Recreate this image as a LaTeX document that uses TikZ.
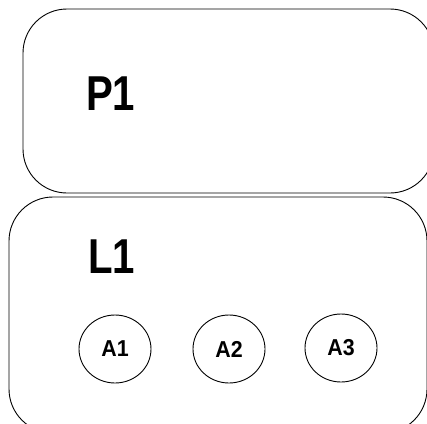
\documentclass[tikz,border=0pt]{standalone}
\usepackage{fontspec}
\setmainfont{Liberation Sans}
\usetikzlibrary{shapes.geometric}

\tikzset{
  panel/.style={draw,line width=0.9pt,rounded corners=44pt},
  bigname/.style={anchor=base west,inner sep=0pt,xscale=0.82,transform shape,
    font=\fontsize{49}{49}\selectfont\bfseries},
  attr/.style={draw,ellipse,line width=0.9pt,minimum width=72pt,minimum height=68pt,inner sep=0pt},
  attrtext/.style={inner sep=0pt,xscale=0.93,transform shape,font=\fontsize{23}{23}\selectfont\bfseries},
}

\begin{document}
\begin{tikzpicture}[x=1pt,y=-1pt]
  \path[clip] (0,0) rectangle (427,423);

  % the two panels
  \draw[panel] (23,9) rectangle (434,193);
  \draw[panel] (9,197) rectangle (427,433);

  \node[bigname] (p1) at (86,110) {P1};
  \node[bigname] (l1) at (88,273) {L1};

  \node[attr] (a1) at (115,349) {};
  \node[attr] (a2) at (229,349) {};
  \node[attr] (a3) at (341,348) {};
  \foreach \n in {1,2,3}
    \node[attrtext] (t\n) at (a\n) {A\n};
\end{tikzpicture}
\end{document}
